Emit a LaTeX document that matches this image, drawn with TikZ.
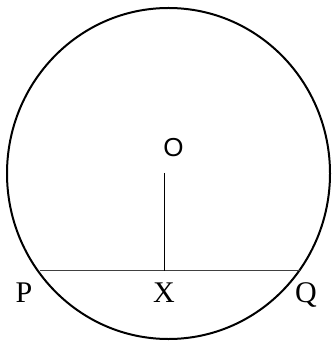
\documentclass[tikz,border=0pt]{standalone}
\usepackage{fontspec}
\setmainfont{Liberation Serif}
\newfontfamily\osans{Liberation Sans}
\begin{document}
\begin{tikzpicture}[x=1pt,y=-1pt,
  lbl/.style={anchor=base,inner sep=0pt,font=\fontsize{30}{30}\selectfont},
  olbl/.style={anchor=base,inner sep=0pt,font=\osans\fontsize{26}{26}\selectfont}]
\useasboundingbox (0,0) rectangle (333,344);
\coordinate (C) at (168.5,173.5);
\coordinate (P) at (39.5,270.5);
\coordinate (Q) at (301,270.5);
\coordinate (X) at (164.5,270.5);
\coordinate (T) at (164.5,173);
\draw[line width=2pt] (C) ellipse [x radius=161.5pt, y radius=165.5pt];
\draw[line width=1.4pt, black!75] (P) -- (Q);
\draw[line width=1pt] (T) -- (X);
\node[olbl] (lO) at (173.5,157) {O};
\node[lbl] (lP) at (24,302) {P};
\node[lbl] (lX) at (164,302) {X};
\node[lbl] (lQ) at (306,302) {Q};
\end{tikzpicture}
\end{document}
